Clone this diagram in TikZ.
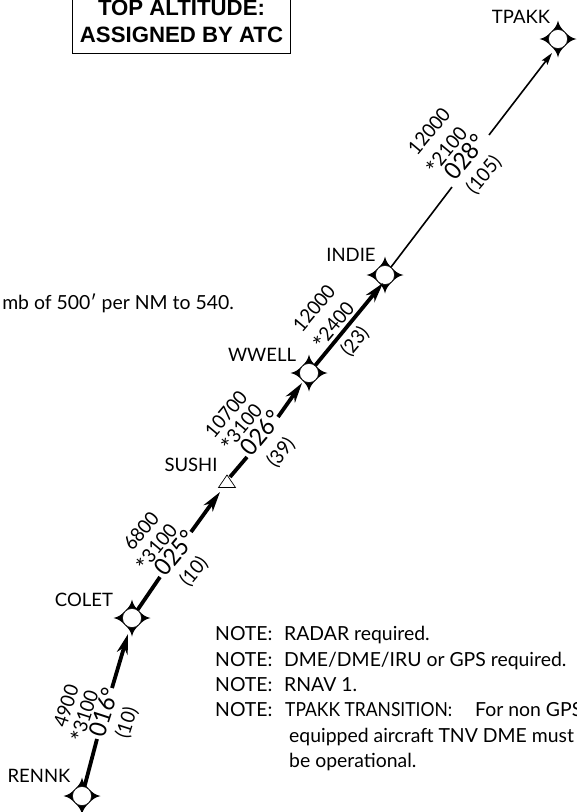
\documentclass[tikz,border=0pt]{standalone}
\usepackage{fontspec}
\setmainfont{Lato}
\newfontfamily\legfont[FakeStretch=0.95]{Lato}
\newfontfamily\notefont[FakeStretch=0.9]{Lato}
\newfontfamily\boxfont{Liberation Sans}
\usetikzlibrary{
	arrows.meta,
	positioning,
	calc
}
\tikzstyle{fix}=[circle,draw,fill=white,inner sep=0pt,minimum size=19pt,line width=.5pt]
\tikzstyle{fixlab}=[font=\fontsize{18.5}{20}\selectfont,inner sep=0pt]
\tikzstyle{note}=[font=\fontsize{19.4}{20}\selectfont,inner sep=0pt,anchor=base west]
\tikzstyle{alt}=[font=\legfont\fontsize{19.5}{21}\selectfont,inner sep=0pt]
\tikzstyle{crs}=[font=\legfont\fontsize{24}{26}\selectfont,inner sep=0pt]
\tikzstyle{banner}=[font=\boxfont\bfseries\fontsize{22.2}{24}\selectfont,inner sep=0pt]
\tikzstyle{heavy}=[line width=3.8pt]
\tikzstyle{light}=[line width=1.6pt]
\tikzstyle{tip}=[-{Stealth[length=20pt,width=11pt,inset=6pt]}]
\tikzstyle{thintip}=[-{Stealth[length=12pt,width=7pt,inset=2pt]}]
\newcommand{\mcastar}{\smash{\raisebox{-5pt}{\fontsize{25}{25}\selectfont *}}}
\newcommand{\fixstar}{(18.5,0) .. controls (13,-1) and (10,-4) .. (7,-7) .. controls (4,-10) and (1,-13) .. (0,-18.5) .. controls (-1,-13) and (-4,-10) .. (-7,-7) .. controls (-10,-4) and (-13,-1) .. (-18.5,0) .. controls (-13,1) and (-10,4) .. (-7,7) .. controls (-4,10) and (-1,13) .. (0,18.5) .. controls (1,13) and (4,10) .. (7,7) .. controls (10,4) and (13,1) .. (18.5,0) -- cycle}
\begin{document}
\begin{tikzpicture}[x=1pt,y=-1pt]
	\useasboundingbox (0,0) rectangle (577,812);
	\clip (0,0) rectangle (577,812);
	\foreach \n/\x/\y in {TPAKK/558/39,INDIE/385/275,WWELL/309/373,COLET/132/618,RENNK/82/796} {
		\fill[shift={(\x,\y)}] \fixstar;
		\node[fix] at (\x,\y) (\n) {};
	}
	\coordinate (SUSHI) at (227,483);
	\draw[fill=white,line width=.7pt] (227,475) -- (235.5,487.5) -- (218.5,487.5) -- cycle;
%
	\node[fixlab] at (521,17) (labTPAKK) {TPAKK};
	\node[fixlab] at (351,255) (labINDIE) {INDIE};
	\node[fixlab] at (262,355) (labWWELL) {WWELL};
	\node[fixlab] at (191,465) (labSUSHI) {SUSHI};
	\node[fixlab] at (84,600) (labCOLET) {COLET};
	\node[fixlab] at (39,776) (labRENNK) {RENNK};
%
	\coordinate (r1) at (97,739);
	\coordinate (c0) at (112,688);
	\coordinate (c1) at (128,634);
	\coordinate (c2) at (160,577);
	\coordinate (s0) at (191,532);
	\coordinate (s1) at (220,492);
	\coordinate (s2) at (230,477);
	\coordinate (s3) at (247,457);
	\coordinate (w0) at (278,417);
	\coordinate (w1) at (302,383);
	\coordinate (i1) at (383,283);
	\coordinate (i2) at (452,187);
	\coordinate (t0) at (489,135);
	\coordinate (t1) at (552,53);
%
	\draw[heavy] (RENNK) -- (r1);
	\draw[heavy,tip] (c0) -- (c1);
	\draw[heavy] (COLET) -- (c2);
	\draw[heavy,tip] (s0) -- (s1);
	\draw[heavy] (s2) -- (s3);
	\draw[heavy,tip] (w0) -- (w1);
	\draw[heavy,tip] (WWELL) -- (i1);
	\draw[light] (INDIE) -- (i2);
	\draw[light,thintip] (t0) -- (t1);
%
	\node[alt,rotate=72] at (66,706) (a1) {4900};
	\node[alt,rotate=72] at (84,716) (m1) {\mcastar 3100};
	\node[crs,rotate=72] at (104,712) (c1l) {016°};
	\node[alt,rotate=72] at (127,723) (d1) {(10)};
%
	\node[alt,rotate=50] at (141,531) (a2) {6800};
	\node[alt,rotate=50] at (156,547) (m2) {\mcastar 3100};
	\node[crs,rotate=50] at (175,553) (c2l) {025°};
	\node[alt,rotate=50] at (194,572) (d2) {(10)};
%
	\node[alt,rotate=50] at (226,414) (a3) {10700};
	\node[alt,rotate=50] at (241,427) (m3) {\mcastar 3100};
	\node[crs,rotate=50] at (261,433) (c3l) {026°};
	\node[alt,rotate=50] at (281,453) (d3) {(39)};
%
	\node[alt,rotate=50] at (314,308) (a4) {12000};
	\node[alt,rotate=50] at (333,325) (m4) {\mcastar 2400};
	\node[alt,rotate=50] at (355,342) (d4) {(23)};
%
	\node[alt,rotate=50] at (429,131) (a5) {12000};
	\node[alt,rotate=50] at (446,150) (m5) {\mcastar 2100};
	\node[crs,rotate=50] at (465,157) (c5l) {028°};
	\node[alt,rotate=50] at (484,175) (d5) {(105)};
%
	\node[note] at (215,640.5) (n1) {NOTE:};
	\node[note] at (284,640.5) (n1t) {RADAR required.};
	\node[note] at (215,666.5) (n2) {NOTE:};
	\node[note] at (284,666.5) (n2t) {DME/DME/IRU or GPS required.};
	\node[note] at (215,691) (n3) {NOTE:};
	\node[note] at (284,691) (n3t) {RNAV 1.};
	\node[note] at (215,716.5) (n4) {NOTE:};
	\node[note,font=\notefont\fontsize{19.4}{20}\selectfont] at (285,716.5) (n4t) {TPAKK TRANSITION:};
	\node[note] at (475,716.5) (n4u) {For non GPS};
	\node[note] at (289,742) (n5) {equipped aircraft TNV DME must};
	\node[note] at (289,767.5) (n6) {be operational.};
	\node[note,anchor=base east] at (234,309) (climb) {mb of 500′ per NM to 540.};
%
	\draw[line width=.8pt] (72.5,-10) rectangle (290,53.5);
	\node[banner] at (181.5,7.5) (top1) {TOP ALTITUDE:};
	\node[banner] at (181.5,34.5) (top2) {ASSIGNED BY ATC};
\end{tikzpicture}
\end{document}
